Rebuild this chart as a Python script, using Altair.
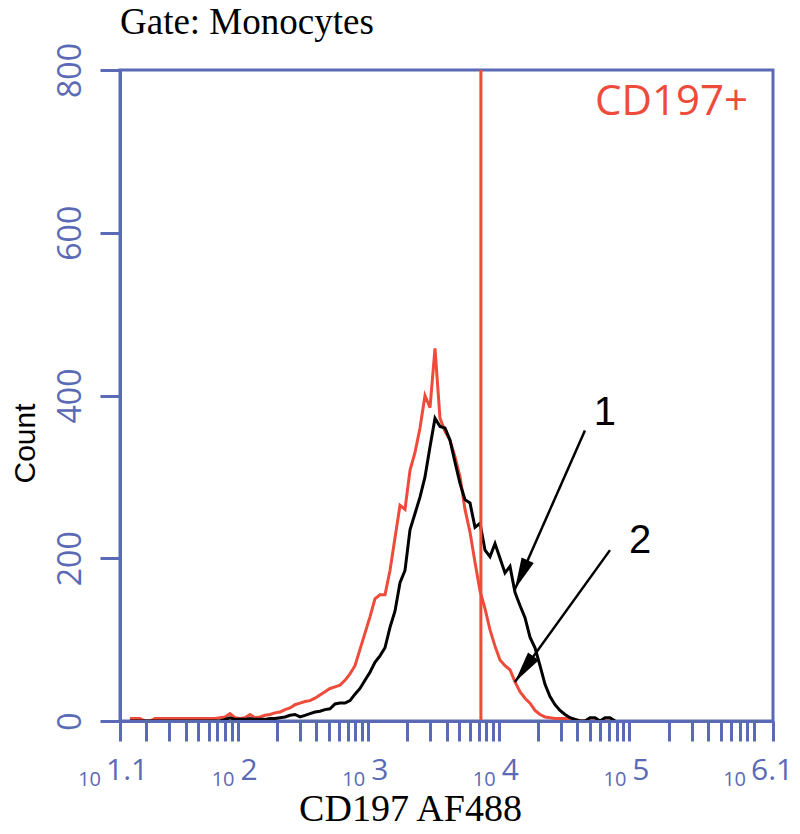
import math
import altair as alt
import pandas as pd

BLUE = "#5B6AB5"
RED = "#EE4B3B"

# Histogram bins (CD197 AF488 intensity) and counts
intensity = [
    15.0, 16.4, 17.9, 19.6, 21.4, 23.3, 25.5, 27.8, 30.4, 33.2,
    36.3, 39.6, 43.3, 47.2, 51.6, 56.3, 61.5, 67.2, 73.4, 80.2,
    87.6, 95.6, 104.4, 114.0, 124.6, 136.1, 148.6, 162.3, 177.2, 193.6,
    211.4, 230.9, 252.2, 275.4, 300.8, 328.5, 358.8, 391.8, 427.9, 467.4,
    510.5, 557.5, 608.8, 664.9, 726.2, 793.1, 866.2, 946.0, 1033, 1128,
    1232, 1346, 1470, 1605, 1754, 1915, 2092, 2285, 2495, 2725,
    2977, 3251, 3550, 3877, 4235, 4625, 5051, 5517, 6025, 6580,
    7187, 7849, 8573, 9363, 10226, 11167, 12197, 13321, 14548, 15889,
    17353, 18953, 20700, 22607, 24690, 26965, 29450, 32164, 35128, 38364,
    41900, 45760, 49970, 54600, 59630, 65120, 71120, 77700,
]
# curve 1 (black)
count_1 = [
    0, 0, 0, 0, 0, 0, 0, 0, 0, 0,
    0, 0, 0, 0, 0, 0, 0, 0, 0, 2,
    4, 2, 2, 2, 3, 2, 2, 2, 3, 3,
    4, 5, 7, 8, 5, 7, 9, 11, 12, 14,
    15, 21, 22, 22, 25, 33, 40, 50, 60, 72,
    80, 90, 115, 135, 170, 185, 235, 255, 275, 300,
    337, 372, 362, 360, 345, 318, 292, 272, 268, 238,
    243, 210, 202, 218, 200, 182, 190, 158, 142, 127,
    103, 90, 68, 45, 30, 20, 13, 8, 4, 2,
    0, 0, 4, 4, 0, 4, 4, 0,
]
# curve 2 (red)
count_2 = [
    3, 3, 3, 0, 0, 3, 3, 3, 3, 3,
    3, 3, 3, 3, 3, 3, 3, 3, 4, 5,
    9, 4, 3, 4, 8, 4, 5, 7, 8, 10,
    11, 14, 16, 20, 22, 24, 25, 28, 32, 36,
    40, 42, 44, 50, 58, 68, 88, 108, 128, 150,
    155, 155, 185, 225, 265, 260, 308, 330, 360, 400,
    385, 458, 372, 356, 345, 325, 300, 260, 232, 195,
    160, 138, 112, 92, 75, 68, 63, 48, 36, 28,
    22, 13, 8, 5, 4, 3, 3, 3, 3, 2,
    0, 0, 0, 0, 0, 0, 0, 0,
]

gate_x = [7300]

arrow_x_from = [45700, 71100]
arrow_y_from = [357, 210]
arrow_x_to = [13300, 13300]
arrow_y_to = [162, 48]

num_labels = ["1", "2"]
num_x = [65100, 120700]
num_y = [364, 206]

gate_label = ["CD197+"]
gate_label_x = [810000]
gate_label_y = [745]

mid_exps = ["2", "3", "4", "5"]
mid_vals = [1e2, 1e3, 1e4, 1e5]
first_exp, first_val = "1.1", 10 ** 1.1
last_exp, last_val = "6.1", 10 ** 6.1

W, H = 653, 651
XMIN, XMAX = 10 ** 1.1, 10 ** 6.1
YMAX = 800

xticks = [XMIN] + [m * 10 ** k for k in range(1, 6) for m in range(1, 10)
                   if XMIN <= m * 10 ** k <= XMAX] + [XMAX]
xticks = sorted(set(xticks))

xscale = alt.Scale(type="log", domain=[XMIN, XMAX], nice=False)
yscale = alt.Scale(domain=[0, YMAX], nice=False, zero=False)

xaxis = alt.Axis(values=xticks, labels=False, grid=False, domainColor=BLUE,
                 domainWidth=3, tickColor=BLUE, tickWidth=3, tickSize=20,
                 title="CD197 AF488", titleFont="Liberation Serif",
                 titleFontSize=38, titleFontWeight="normal", titleColor="black",
                 titleX=290, titleY=99, titleAlign="center",
                 titleBaseline="alphabetic", zindex=1)
yaxis = alt.Axis(values=[0, 200, 400, 600, 800], grid=False, domainColor=BLUE,
                 domainWidth=3, tickColor=BLUE, tickWidth=3, tickSize=20,
                 labelAngle=270, labelAlign="center", labelBaseline="alphabetic",
                 labelPadding=20, labelFont="Open Sans", labelFontSize=32,
                 labelColor=BLUE, labelFlush=False, labelOverlap=False,
                 title="Count", titleFont="Liberation Sans", titleFontSize=30,
                 titleFontWeight="normal", titleColor="black", titleAngle=270,
                 titleX=-110, titleY=373, titleAlign="center",
                 titleBaseline="top", zindex=1)


def X(field="x"):
    return alt.X(f"{field}:Q", scale=xscale, axis=xaxis)


def Y(field="y"):
    return alt.Y(f"{field}:Q", scale=yscale, axis=yaxis)


def px(v):
    return (math.log10(v) - 1.1) / 5 * W


def py(c):
    return H - c / YMAX * H


df1 = pd.DataFrame({"x": intensity, "y": count_1})
df2 = pd.DataFrame({"x": intensity, "y": count_2})

red_line = alt.Chart(df2).mark_line(color=RED, strokeWidth=3).encode(x=X(), y=Y())
black_line = alt.Chart(df1).mark_line(color="black", strokeWidth=3).encode(x=X(), y=Y())

gate_rule = alt.Chart(pd.DataFrame({"x": gate_x})).mark_rule(
    color=RED, strokeWidth=3).encode(x=X())

arr = pd.DataFrame({"x": arrow_x_from, "y": arrow_y_from,
                    "x2": arrow_x_to, "y2": arrow_y_to})
arrow_lines = alt.Chart(arr).mark_rule(color="black", strokeWidth=2.5).encode(
    x=X(), y=Y(), x2="x2:Q", y2="y2:Q")

angles = []
for xf, yf, xt, yt in zip(arrow_x_from, arrow_y_from, arrow_x_to, arrow_y_to):
    dx = px(xt) - px(xf)
    dy = py(yt) - py(yf)
    angles.append(math.degrees(math.atan2(dx, -dy)) % 360)
heads = pd.DataFrame({"x": arrow_x_to, "y": arrow_y_to, "angle": angles})
arrow_heads = alt.Chart(heads).mark_point(
    shape="M0,0 L-0.42,2 L0.42,2 Z", filled=True, color="black", opacity=1,
    size=1000, strokeWidth=0).encode(
    x=X(), y=Y(), angle=alt.Angle("angle:Q", scale=None))

nums = alt.Chart(pd.DataFrame({"x": num_x, "y": num_y, "t": num_labels})).mark_text(
    align="center", baseline="alphabetic", font="Liberation Sans", fontSize=40,
    color="black").encode(x=X(), y=Y(), text="t:N")

gate_txt = alt.Chart(pd.DataFrame({"x": gate_label_x, "y": gate_label_y,
                                   "t": gate_label})).mark_text(
    align="right", baseline="alphabetic", font="Open Sans", fontSize=42,
    color=RED).encode(x=X(), y=Y(), text="t:N")


def tick_label_layers(vals, exps, base_dx, exp_dx):
    d = pd.DataFrame({"x": vals, "y": [0] * len(vals), "b": ["10"] * len(vals),
                      "e": exps})
    base = alt.Chart(d).mark_text(align="right", baseline="alphabetic", dx=base_dx,
                                  dy=65, font="Open Sans", fontSize=20,
                                  color=BLUE).encode(x=X(), y=Y(), text="b:N")
    ex = alt.Chart(d).mark_text(align="left", baseline="alphabetic", dx=exp_dx,
                                dy=59, font="Open Sans", fontSize=30,
                                color=BLUE).encode(x=X(), y=Y(), text="e:N")
    return [base, ex]


lab_layers = (tick_label_layers(mid_vals, mid_exps, -3, 3)
              + tick_label_layers([first_val], [first_exp], -19, -14)
              + tick_label_layers([last_val], [last_exp], -27, -22))

chart = alt.layer(
    red_line, black_line, gate_rule, arrow_lines, arrow_heads, nums, gate_txt,
    *lab_layers,
).properties(
    width=W, height=H,
    autosize=alt.AutoSizeParams(type="none"),
    padding={"left": 112, "top": 62, "right": 19, "bottom": 104},
    title=alt.TitleParams("Gate: Monocytes", anchor="start", frame="group",
                          font="Liberation Serif", fontSize=37,
                          fontWeight="normal", color="black",
                          baseline="alphabetic", offset=9, dy=37),
).configure_view(stroke=BLUE, strokeWidth=3)

chart.save("out.html", embed_options={"renderer": "svg", "actions": False})
